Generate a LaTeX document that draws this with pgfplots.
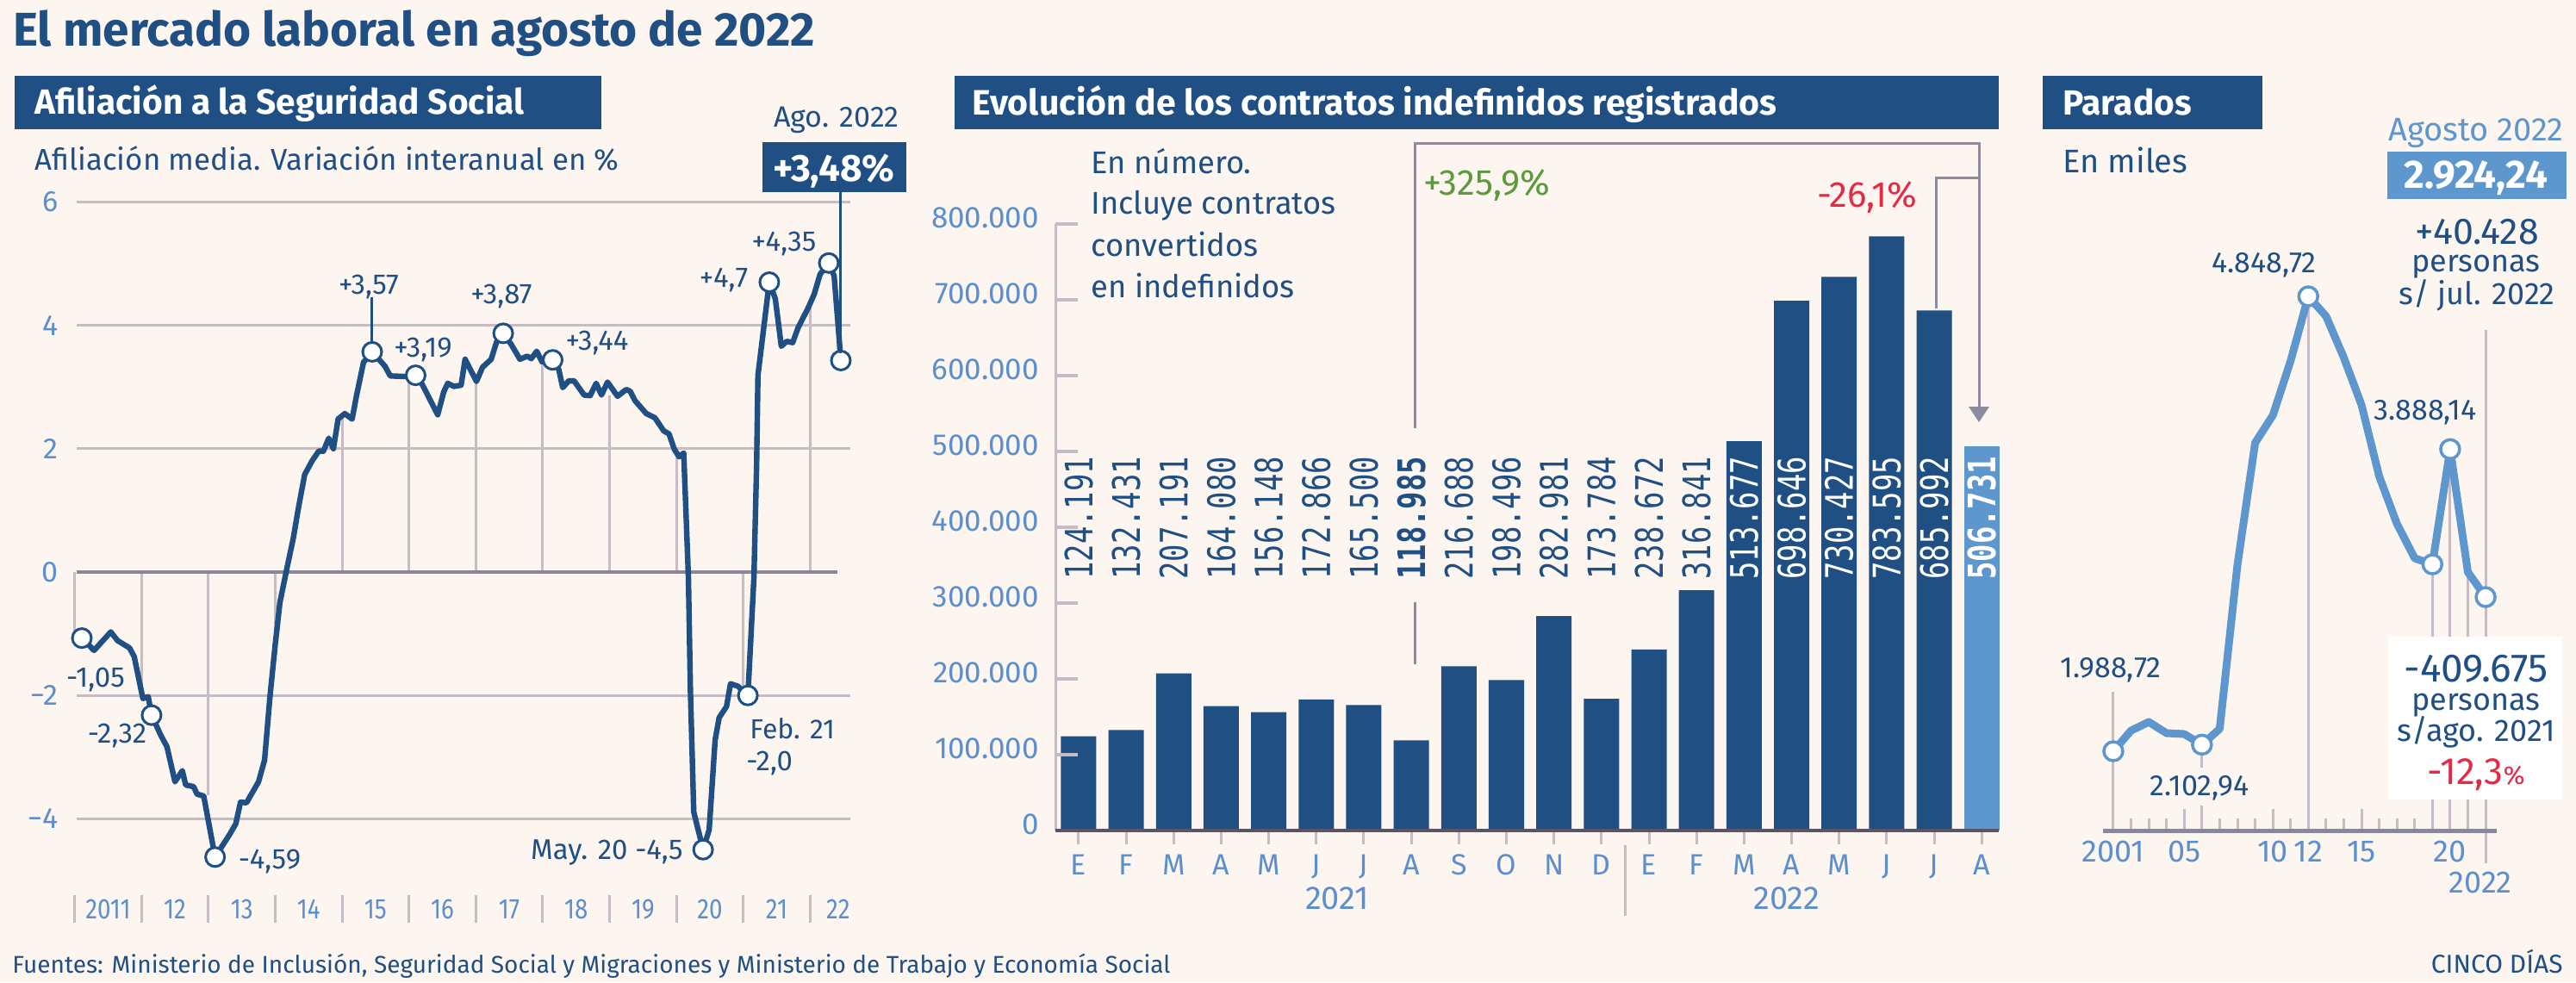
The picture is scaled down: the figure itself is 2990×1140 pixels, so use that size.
\documentclass[border=0pt]{standalone}
\usepackage{pgfplots}
\pgfplotsset{compat=1.18}
\usepackage{fontspec}
\setmainfont{Fira Sans}
\newfontfamily\cond{Fira Sans}[FakeStretch=0.84]
\newfontfamily\mono{DejaVu Sans Mono}[FakeStretch=0.77]
\definecolor{bg}{HTML}{FDF5EF}
\definecolor{dk}{HTML}{1F4F83}
\definecolor{lt}{HTML}{5E96CE}
\definecolor{tk}{HTML}{5C8FCB}
\definecolor{gr}{HTML}{C8BBC4}
\definecolor{zl}{HTML}{8A8797}
\definecolor{brk}{HTML}{8E8C9C}
\definecolor{grn}{HTML}{5C9A3C}
\definecolor{rd}{HTML}{E22B45}
\definecolor{base}{HTML}{5A5468}
\newcommand\fs[1]{\fontsize{#1}{#1}\selectfont}
\begin{document}
\begin{tikzpicture}
\begin{scope}[x=0.5pt,y=-0.5pt]
\fill[bg] (0,0) rectangle (2990,1140);
\end{scope}

% ================= LEFT: Afiliacion =================
\begin{axis}[at={(43.35pt,-511pt)}, anchor=south west, scale only axis,
  width=452pt, height=408.1pt, xmin=2011, xmax=2022.65, ymin=-5, ymax=6.4,
  clip=false, axis line style={draw=none}, major tick length=0pt,
  ytick={-4,-2,0,2,4,6}, yticklabels={−4,−2,0,2,4,6},
  yticklabel style={font=\fs{17pt}, text=tk, anchor=east, inner sep=0pt, xshift=-9.35pt},
  xtick={2011.5,2012.5,2013.5,2014.5,2015.5,2016.5,2017.5,2018.5,2019.5,2020.5,2021.5,2022.42},
  xticklabels={2011,12,13,14,15,16,17,18,19,20,21,22},
  xticklabel style={font=\cond\fs{16.5pt}, text=tk, anchor=base, inner sep=0pt, yshift=-22pt}]
\draw[gr, line width=1.5pt] (axis cs:2011.03,-4) -- (axis cs:2022.6,-4);
\draw[gr, line width=1.5pt] (axis cs:2011.03,-2) -- (axis cs:2022.6,-2);
\draw[gr, line width=1.5pt] (axis cs:2011.03,2) -- (axis cs:2022.6,2);
\draw[gr, line width=1.5pt] (axis cs:2011.03,4) -- (axis cs:2022.6,4);
\draw[gr, line width=1.5pt] (axis cs:2011.03,6) -- (axis cs:2022.6,6);
\draw[gr, line width=1.5pt] (axis cs:2011,0) -- (axis cs:2011,-1.0);
\draw[gr, line width=1.5pt] (axis cs:2012,0) -- (axis cs:2012,-2.03);
\draw[gr, line width=1.5pt] (axis cs:2013,0) -- (axis cs:2013,-3.62);
\draw[gr, line width=1.5pt] (axis cs:2014,0) -- (axis cs:2014,-1.17);
\draw[gr, line width=1.5pt] (axis cs:2015,0) -- (axis cs:2015,2.55);
\draw[gr, line width=1.5pt] (axis cs:2016,0) -- (axis cs:2016,3.15);
\draw[gr, line width=1.5pt] (axis cs:2017,0) -- (axis cs:2017,3.09);
\draw[gr, line width=1.5pt] (axis cs:2018,0) -- (axis cs:2018,3.41);
\draw[gr, line width=1.5pt] (axis cs:2019,0) -- (axis cs:2019,2.86);
\draw[gr, line width=1.5pt] (axis cs:2020,0) -- (axis cs:2020,1.89);
\draw[gr, line width=1.5pt] (axis cs:2021,0) -- (axis cs:2021,-1.85);
\draw[gr, line width=1.5pt] (axis cs:2022,0) -- (axis cs:2022,4.28);
\pgfplotsinvokeforeach{2011,2012,2013,2014,2015,2016,2017,2018,2019,2020,2021,2022}{
  \draw[gr, line width=1.5pt] (axis cs:#1,-5.24) -- (axis cs:#1,-5.68);
}
\draw[zl, line width=1.75pt] (axis cs:2011.03,0) -- (axis cs:2022.41,0);
\addplot[dk, line width=3.2pt, line join=round, line cap=round] coordinates {
(2011.107,-1.07) (2011.29,-1.27) (2011.54,-0.97) (2011.64,-1.11) (2011.82,-1.23) (2011.89,-1.37)
(2012.02,-2.05) (2012.10,-2.02) (2012.15,-2.32) (2012.29,-2.65) (2012.38,-2.83) (2012.50,-3.40)
(2012.61,-3.22) (2012.66,-3.45) (2012.78,-3.48) (2012.83,-3.60) (2012.93,-3.63) (2013.10,-4.62)
(2013.32,-4.25) (2013.41,-4.08) (2013.48,-3.73) (2013.57,-3.74) (2013.75,-3.40) (2013.84,-3.05)
(2013.92,-2.03) (2014.00,-1.17) (2014.07,-0.49) (2014.18,0.09) (2014.27,0.55) (2014.35,1.06)
(2014.44,1.58) (2014.55,1.80) (2014.65,1.96) (2014.72,1.96) (2014.80,2.17) (2014.87,2.00)
(2014.94,2.48) (2015.04,2.57) (2015.15,2.48) (2015.21,2.83) (2015.32,3.40) (2015.45,3.57)
(2015.64,3.34) (2015.72,3.18) (2015.94,3.17) (2016.10,3.19) (2016.20,3.04) (2016.43,2.55)
(2016.52,2.92) (2016.58,3.06) (2016.67,3.01) (2016.78,3.03) (2016.84,3.45) (2017.01,3.09)
(2017.10,3.32) (2017.23,3.45) (2017.31,3.73) (2017.41,3.87) (2017.53,3.69) (2017.66,3.45)
(2017.77,3.50) (2017.83,3.46) (2017.91,3.58) (2017.99,3.41) (2018.15,3.44) (2018.24,3.29)
(2018.30,2.99) (2018.39,3.10) (2018.47,3.10) (2018.62,2.87) (2018.71,2.86) (2018.80,3.06)
(2018.88,2.87) (2018.97,3.08) (2019.12,2.85) (2019.25,2.96) (2019.31,2.93) (2019.38,2.78)
(2019.55,2.57) (2019.68,2.50) (2019.81,2.29) (2019.89,2.24) (2019.97,1.99) (2020.04,1.87)
(2020.11,1.93) (2020.13,1.36) (2020.18,-0.09) (2020.21,-1.92) (2020.26,-3.89) (2020.40,-4.50)
(2020.49,-4.18) (2020.58,-2.72) (2020.64,-2.36) (2020.75,-2.18) (2020.81,-1.81) (2020.92,-1.85)
(2021.07,-2.00) (2021.16,-0.09) (2021.20,1.73) (2021.22,3.19) (2021.31,3.99) (2021.39,4.70)
(2021.48,4.43) (2021.57,3.66) (2021.65,3.74) (2021.74,3.72) (2021.82,3.96) (2021.97,4.28)
(2022.06,4.50) (2022.15,4.83) (2022.28,5.01) (2022.36,4.80) (2022.42,3.99) (2022.46,3.43)};
\addplot[only marks, mark=*, mark size=5.5pt, mark options={fill=white, draw=dk, line width=1.5pt}] coordinates {
(2011.107,-1.07) (2012.15,-2.32) (2013.10,-4.62) (2015.45,3.57) (2016.10,3.19) (2017.41,3.87)
(2018.15,3.44) (2020.40,-4.50) (2021.07,-2.00) (2021.39,4.70) (2022.28,5.01) (2022.46,3.43)};
\end{axis}

% ================= MIDDLE: contratos =================
\begin{axis}[at={(612.5pt,-482pt)}, anchor=south west, scale only axis,
  width=547.5pt, height=362.1pt, xmin=-0.489, xmax=19.36, ymin=0, ymax=823000,
  clip=false, axis line style={draw=none}, major tick length=0pt, scaled y ticks=false,
  ytick={0,100000,200000,300000,400000,500000,600000,700000,800000},
  yticklabels={0,100.000,200.000,300.000,400.000,500.000,600.000,700.000,800.000},
  yticklabel style={font=\fs{17.5pt}, text=tk, anchor=east, inner sep=0pt, xshift=-9.5pt, yshift=3.5pt},
  xtick={0,...,19},
  xticklabels={E,F,M,A,M,J,J,A,S,O,N,D,E,F,M,A,M,J,J,A},
  xticklabel style={font=\fs{17pt}, text=tk, anchor=base, inner sep=0pt, yshift=-25.5pt}]
\addplot[ybar, bar width=20.5pt, bar shift=0pt, fill=dk, draw=none] coordinates {
(0,124191) (1,132431) (2,207191) (3,164080) (4,156148) (5,172866) (6,165500) (7,118985)
(8,216688) (9,198496) (10,282981) (11,173784) (12,238672) (13,316841) (14,513677)
(15,698646) (16,730427) (17,783595) (18,685992)};
\addplot[ybar, bar width=20.5pt, bar shift=0pt, fill=lt, draw=none] coordinates {(19,506731)};
\draw[gr, line width=1.5pt] (axis cs:-0.489,0) -- (axis cs:-0.489,800000);
\pgfplotsinvokeforeach{100000,200000,300000,400000,500000,600000,700000,800000}{
  \draw[gr, line width=1.75pt] (axis cs:-0.489,#1) -- ++(13pt,0pt);
}
\pgfplotsinvokeforeach{0,...,19}{
  \draw[gr, line width=1.5pt] (axis cs:#1,0) -- ++(0pt,-8pt);
}
\draw[base, line width=2pt] (axis cs:-0.489,0) -- (axis cs:19.36,0);
\draw[gr, line width=1.5pt] (axis cs:11.5,0) ++(0pt,-8.5pt) -- ++(0pt,-41pt);
\node[font=\fs{19pt}, text=tk, anchor=base, inner sep=0pt, yshift=-45.5pt] at (axis cs:5.44,0) {2021};
\node[font=\fs{19pt}, text=tk, anchor=base, inner sep=0pt, yshift=-45.5pt] at (axis cs:14.9,0) {2022};
\begin{scope}[every node/.style={rotate=90, anchor=west, inner sep=0pt, font=\mono\fs{22pt}, text=dk}]
\node at (axis cs:0,330700) {124.191};
\node at (axis cs:1,330700) {132.431};
\node at (axis cs:2,330700) {207.191};
\node at (axis cs:3,330700) {164.080};
\node at (axis cs:4,330700) {156.148};
\node at (axis cs:5,330700) {172.866};
\node at (axis cs:6,330700) {165.500};
\node at (axis cs:7,330700) {\bfseries 118.985};
\node at (axis cs:8,330700) {216.688};
\node at (axis cs:9,330700) {198.496};
\node at (axis cs:10,330700) {282.981};
\node at (axis cs:11,330700) {173.784};
\node at (axis cs:12,330700) {238.672};
\node at (axis cs:13,330700) {316.841};
\node[text=white] at (axis cs:14,330700) {513.677};
\node[text=white] at (axis cs:15,330700) {698.646};
\node[text=white] at (axis cs:16,330700) {730.427};
\node[text=white] at (axis cs:17,330700) {783.595};
\node[text=white] at (axis cs:18,330700) {685.992};
\node[text=white] at (axis cs:19,330700) {\bfseries 506.731};
\end{scope}
\end{axis}

% ================= RIGHT: parados =================
\begin{axis}[at={(1220.5pt,-482pt)}, anchor=south west, scale only axis,
  width=228.5pt, height=332pt, xmin=2000.42, xmax=2022.63, ymin=1490.4, ymax=5086.9,
  clip=false, axis line style={draw=none}, major tick length=0pt, ytick=\empty,
  xtick={2001,2005,2010,2012,2015,2020}, xticklabels={2001,05,10,12,15,20},
  xticklabel style={font=\fs{18pt}, text=tk, anchor=base, inner sep=0pt, yshift=-18pt}]
\pgfplotsinvokeforeach{2002,2003,2004,2007,2008,2009,2011,2013,2014,2016,2017,2018}{
  \draw[gr, line width=1.5pt] (axis cs:#1,1490.4) -- (axis cs:#1,1566.2);
}
\pgfplotsinvokeforeach{2005,2010,2015}{
  \draw[gr, line width=1.5pt] (axis cs:#1,1490.4) -- (axis cs:#1,1625.8);
}
\draw[gr, line width=1.5pt] (axis cs:2006,1490.4) -- (axis cs:2006,1647.5);
\draw[gr, line width=1.5pt] (axis cs:2006,2030) -- (axis cs:2006,1885.8);
\draw[gr, line width=1.5pt] (axis cs:2001,1490.4) -- (axis cs:2001,2362);
\draw[gr, line width=1.5pt] (axis cs:2012,1490.4) -- (axis cs:2012,4848.72);
\draw[gr, line width=1.5pt] (axis cs:2019,1490.4) -- (axis cs:2019,3164);
\draw[gr, line width=1.5pt] (axis cs:2020,1490.4) -- (axis cs:2020,3888.14);
\draw[gr, line width=1.5pt] (axis cs:2021,1490.4) -- (axis cs:2021,3115.3);
\draw[gr, line width=1.5pt] (axis cs:2022,1284.6) -- (axis cs:2022,4637.4);
\draw[zl, line width=2.5pt] (axis cs:2000.42,1490.4) -- (axis cs:2022.63,1490.4);
\addplot[lt, line width=4.5pt, line join=round] coordinates {
(2001,1988.72) (2002,2118.7) (2003,2172.9) (2004,2102.5) (2005,2097) (2006,2030)
(2007,2129.5) (2008,3158.7) (2009,3927.8) (2010,4101) (2011,4442.5) (2012,4848.72)
(2013,4724) (2014,4464) (2015,4166) (2016,3716.6) (2017,3418.7) (2018,3202)
(2019,3164) (2020,3888.14) (2021,3115.3) (2022,2958)};
\addplot[only marks, mark=*, mark size=5.5pt, mark options={fill=white, draw=lt, line width=1.75pt}] coordinates {
(2001,1988.72) (2006,2030) (2012,4848.72) (2019,3164) (2020,3888.14) (2022,2958)};
\end{axis}

% ================= TEXTS & DECORATIONS =================
\begin{scope}[x=0.5pt,y=-0.5pt]
\node[anchor=base west, inner sep=0pt, text=dk, font=\bfseries\fs{27.5pt}] at (15,54) {El mercado laboral en agosto de 2022};
% left header
\fill[dk] (17,88) rectangle (698,150);
\node[anchor=base west, inner sep=0pt, text=white, font=\bfseries\fs{20.3pt}] at (40,132) {Afiliación a la Seguridad Social};
\node[anchor=base west, inner sep=0pt, text=dk, font=\fs{17.4pt}] at (40,197) {Afiliación media. Variación interanual en \%};
\node[anchor=base, inner sep=0pt, text=dk, font=\fs{17pt}] at (971,147) {Ago. 2022};
\draw[dk, line width=1.5pt] (975,223) -- (975,410);
\fill[dk] (885,165) rectangle (1052,223);
\node[anchor=base, inner sep=0pt, text=white, font=\bfseries\fs{22pt}] at (968,210) {+3,48\%};
\draw[dk, line width=1.5pt] (431,345) -- (431,397);
\begin{scope}[every node/.style={anchor=base, inner sep=0pt, text=dk, font=\fs{16.5pt}}]
\node at (111,797) {-1,05};
\node at (136,862) {-2,32};
\node at (313,1008) {-4,59};
\node at (428,341) {+3,57};
\node at (491,414) {+3,19};
\node at (582,352) {+3,87};
\node at (693,406) {+3,44};
\node at (840,333) {+4,7};
\node at (910,291) {+4,35};
\node[anchor=base east] at (793,997) {May. 20 -4,5};
\node[anchor=base west, font=\fs{16pt}] at (870,857) {Feb. 21};
\node[anchor=base west] at (866,894) {-2,0};
\end{scope}
% middle header
\fill[dk] (1108,88) rectangle (2320,150);
\node[anchor=base west, inner sep=0pt, text=white, font=\bfseries\fs{20.5pt}, text depth=0pt] at (1128,133) {Evolución de los contratos indefinidos registrados};
\begin{scope}[every node/.style={anchor=base west, inner sep=0pt, text=dk, font=\fs{18.2pt}}]
\node at (1266,201) {En número.};
\node at (1266,248) {Incluye contratos};
\node at (1266,297) {convertidos};
\node at (1266,345) {en indefinidos};
\end{scope}
\node[anchor=base west, inner sep=0pt, text=grn, font=\fs{21pt}] at (1652,226) {+325,9\%};
\node[anchor=base west, inner sep=0pt, text=rd, font=\fs{21pt}] at (2109,240) {-26,1\%};
\draw[brk, line width=1.5pt] (1642,497) -- (1642,166) -- (2297,166) -- (2297,474);
\fill[brk] (2285,472) -- (2309,472) -- (2297,490) -- cycle;
\draw[brk, line width=1.5pt] (1642,699) -- (1642,771);
\draw[brk, line width=1.5pt] (2247,358) -- (2247,206) -- (2297,206);
% right header
\fill[dk] (2371,88) rectangle (2626,150);
\node[anchor=base west, inner sep=0pt, text=white, font=\bfseries\fs{20.3pt}] at (2394,133) {Parados};
\node[anchor=base west, inner sep=0pt, text=dk, font=\fs{19pt}] at (2394,200) {En miles};
\node[anchor=base, inner sep=0pt, text=lt, font=\fs{19pt}] at (2874,163) {Agosto 2022};
\fill[lt] (2771,176) rectangle (2979,231);
\node[anchor=base, inner sep=0pt, text=white, font=\bfseries\fs{23pt}] at (2874,218) {2.924,24};
\begin{scope}[every node/.style={anchor=base, inner sep=0pt, text=dk}]
\node[font=\fs{21.5pt}, text height=7pt, text depth=1pt] at (2875,283) {+40.428};
\node[font=\fs{18pt}, text height=5pt, text depth=2pt] at (2874,315) {personas};
\node[font=\fs{18pt}, text height=7pt, text depth=2pt] at (2875,353) {s/ jul. 2022};
\end{scope}
\begin{scope}[every node/.style={anchor=base, inner sep=0pt, text=dk, font=\fs{17pt}}]
\node at (2628,316) {4.848,72};
\node at (2815,487) {3.888,14};
\node at (2450,786) {1.988,72};
\node at (2553,923) {2.102,94};
\end{scope}
\fill[white] (2772,739) rectangle (2974,928);
\begin{scope}[every node/.style={anchor=base, inner sep=0pt, text=dk}]
\node[font=\fs{23pt}, text height=7pt, text depth=1pt] at (2874,791) {-409.675};
\node[font=\fs{18pt}, text height=5pt, text depth=2pt] at (2874,824) {personas};
\node[font=\fs{18pt}, text height=7pt, text depth=2pt] at (2874,860) {s/ago. 2021};
\node[font=\fs{22pt}, text=rd, text height=7pt, text depth=1pt] at (2874,910) {-12,3{\fs{15pt}\%}};
\end{scope}
\node[anchor=base, inner sep=0pt, text=tk, font=\fs{18pt}] at (2879,1036) {2022};
% footer
\node[anchor=base west, inner sep=0pt, text=dk, font=\fs{14pt}] at (14,1129) {Fuentes: Ministerio de Inclusión, Seguridad Social y Migraciones y Ministerio de Trabajo y Economía Social};
\node[anchor=base east, inner sep=0pt, text=dk, font=\fs{15pt}] at (2975,1129) {CINCO DÍAS};
\end{scope}
\pgfresetboundingbox
\path (0pt,0pt) rectangle (1495pt,-570pt);
\end{tikzpicture}
\end{document}
